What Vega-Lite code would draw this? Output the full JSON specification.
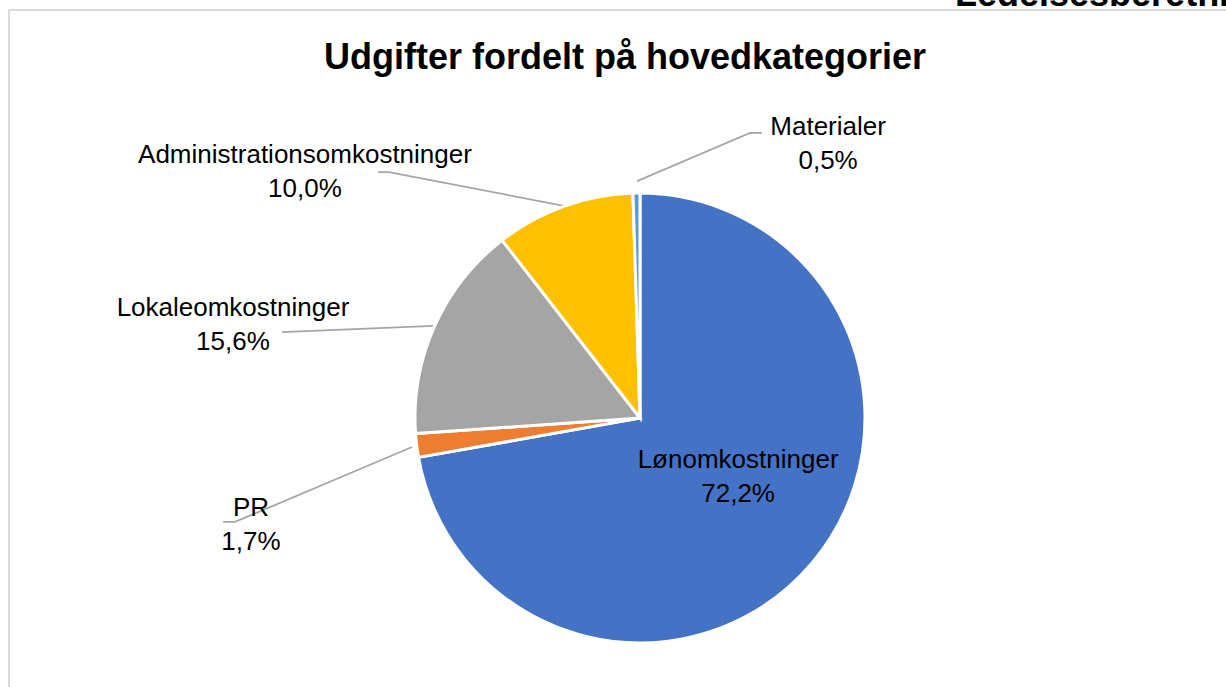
{
  "$schema": "https://vega.github.io/schema/vega-lite/v6.json",
  "width": 1226,
  "height": 687,
  "padding": 0,
  "autosize": {"type": "none"},
  "background": "white",
  "config": {"view": {"stroke": null}, "font": "Liberation Sans"},
  "title": {
    "text": "Udgifter fordelt på hovedkategorier",
    "orient": "top",
    "anchor": "middle",
    "offset": -128,
    "baseline": "alphabetic",
    "dx": 12,
    "fontSize": 36,
    "fontWeight": "bold",
    "font": "Liberation Sans",
    "color": "#000000"
  },
  "datasets": {
    "udgifter": [
      {"kategori": "Lønomkostninger", "andel": 72.2, "nr": 1},
      {"kategori": "PR", "andel": 1.7, "nr": 2},
      {"kategori": "Lokaleomkostninger", "andel": 15.6, "nr": 3},
      {"kategori": "Administrationsomkostninger", "andel": 10.0, "nr": 4},
      {"kategori": "Materialer", "andel": 0.5, "nr": 5}
    ],
    "etiketter": [
      {"kategori": "Lønomkostninger", "lx": 0.436, "ly": -0.187},
      {"kategori": "PR", "lx": -1.729, "ly": -0.4},
      {"kategori": "Lokaleomkostninger", "lx": -1.809, "ly": 0.489},
      {"kategori": "Administrationsomkostninger", "lx": -1.489, "ly": 1.169},
      {"kategori": "Materialer", "lx": 0.836, "ly": 1.293}
    ],
    "ledelinjer": [
      {"kategori": "Materialer", "punkt": 1, "lx": -0.013, "ly": 1.053},
      {"kategori": "Materialer", "punkt": 2, "lx": 0.489, "ly": 1.267},
      {"kategori": "Materialer", "punkt": 3, "lx": 0.542, "ly": 1.267},
      {"kategori": "Administrationsomkostninger", "punkt": 1, "lx": -1.164, "ly": 1.093},
      {"kategori": "Administrationsomkostninger", "punkt": 2, "lx": -1.116, "ly": 1.093},
      {"kategori": "Administrationsomkostninger", "punkt": 3, "lx": -0.333, "ly": 0.942},
      {"kategori": "Lokaleomkostninger", "punkt": 1, "lx": -1.591, "ly": 0.382},
      {"kategori": "Lokaleomkostninger", "punkt": 2, "lx": -0.92, "ly": 0.409},
      {"kategori": "PR", "punkt": 1, "lx": -1.853, "ly": -0.462},
      {"kategori": "PR", "punkt": 2, "lx": -1.8, "ly": -0.462},
      {"kategori": "PR", "punkt": 3, "lx": -1.013, "ly": -0.129}
    ],
    "sidehoved": [{"tekst": "Ledelsesberetning"}]
  },
  "layer": [
    {
      "data": {"values": [{}]},
      "mark": {"type": "rule", "color": "#D9D9D9", "strokeWidth": 2},
      "encoding": {
        "x": {"datum": -2.8044, "type": "quantitative", "scale": {"domain": [-2.8444, 2.6044], "nice": false, "zero": false}, "axis": null},
        "y": {"datum": 1.8133, "type": "quantitative", "scale": {"domain": [-1.1956, 1.8578], "nice": false, "zero": false}, "axis": null},
        "x2": {"datum": 2.6044},
        "y2": {"datum": 1.8133}
      }
    },
    {
      "data": {"values": [{}]},
      "mark": {"type": "rule", "color": "#D9D9D9", "strokeWidth": 2},
      "encoding": {
        "x": {"datum": -2.8044, "type": "quantitative", "scale": {"domain": [-2.8444, 2.6044], "nice": false, "zero": false}, "axis": null},
        "y": {"datum": 1.8133, "type": "quantitative", "scale": {"domain": [-1.1956, 1.8578], "nice": false, "zero": false}, "axis": null},
        "x2": {"datum": -2.8044},
        "y2": {"datum": -1.1956}
      }
    },
    {
      "data": {"name": "sidehoved"},
      "mark": {"type": "text", "align": "left", "baseline": "alphabetic", "fontSize": 36, "fontWeight": "bold", "color": "#000000"},
      "encoding": {
        "x": {"datum": 1.4, "type": "quantitative", "scale": {"domain": [-2.8444, 2.6044], "nice": false, "zero": false}, "axis": null},
        "y": {"datum": 1.8311, "type": "quantitative", "scale": {"domain": [-1.1956, 1.8578], "nice": false, "zero": false}, "axis": null},
        "text": {"field": "tekst"}
      }
    },
    {
      "data": {"name": "ledelinjer"},
      "mark": {"type": "line", "color": "#A6A6A6", "strokeWidth": 1.8},
      "encoding": {
        "x": {"field": "lx", "type": "quantitative", "scale": {"domain": [-2.8444, 2.6044], "nice": false, "zero": false}, "axis": null},
        "y": {"field": "ly", "type": "quantitative", "scale": {"domain": [-1.1956, 1.8578], "nice": false, "zero": false}, "axis": null},
        "detail": {"field": "kategori"},
        "order": {"field": "punkt"}
      }
    },
    {
      "data": {"name": "udgifter"},
      "mark": {"type": "arc", "outerRadius": 225, "stroke": "#FFFFFF", "strokeWidth": 3},
      "encoding": {
        "x": {"datum": 0, "type": "quantitative", "scale": {"domain": [-2.8444, 2.6044], "nice": false, "zero": false}, "axis": null},
        "y": {"datum": 0, "type": "quantitative", "scale": {"domain": [-1.1956, 1.8578], "nice": false, "zero": false}, "axis": null},
        "theta": {"field": "andel", "type": "quantitative", "stack": true},
        "order": {"field": "nr"},
        "color": {
          "field": "kategori",
          "type": "nominal",
          "scale": {
            "domain": ["Lønomkostninger", "PR", "Lokaleomkostninger", "Administrationsomkostninger", "Materialer"],
            "range": ["#4472C4", "#ED7D31", "#A5A5A5", "#FFC000", "#5B9BD5"]
          },
          "legend": null
        }
      }
    },
    {
      "data": {"name": "etiketter"},
      "transform": [
        {"lookup": "kategori", "from": {"data": {"name": "udgifter"}, "key": "kategori", "fields": ["andel"]}},
        {"calculate": "datum.kategori + '\\n' + replace(format(datum.andel, '.1f'), '.', ',') + '%'", "as": "tekst"}
      ],
      "mark": {"type": "text", "align": "center", "baseline": "middle", "fontSize": 26, "lineHeight": 34, "lineBreak": "\n", "color": "#000000"},
      "encoding": {
        "x": {"field": "lx", "type": "quantitative", "scale": {"domain": [-2.8444, 2.6044], "nice": false, "zero": false}, "axis": null},
        "y": {"field": "ly", "type": "quantitative", "scale": {"domain": [-1.1956, 1.8578], "nice": false, "zero": false}, "axis": null},
        "text": {"field": "tekst"}
      }
    }
  ]
}
